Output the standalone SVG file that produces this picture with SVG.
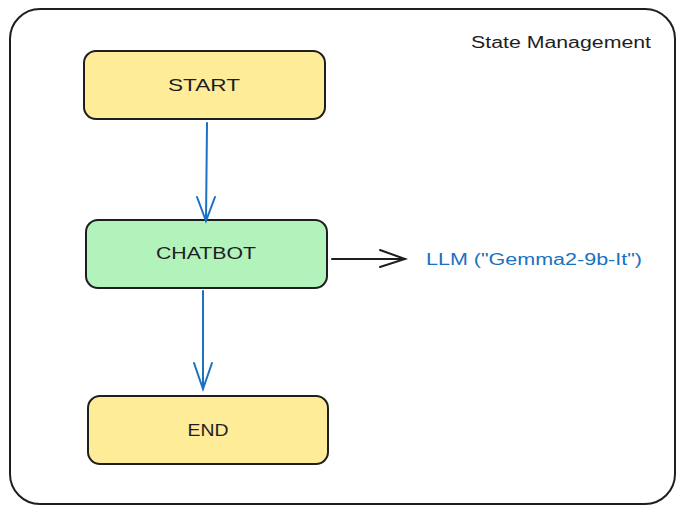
<svg xmlns="http://www.w3.org/2000/svg" width="685" height="514" viewBox="0 0 685 514">
<defs>
<style>
.frame{fill:#ffffff;stroke:#1e1e1e;stroke-width:2}
.node rect{stroke:#1e1e1e;stroke-width:2}
.yellow{fill:#ffec99}
.green{fill:#b2f2bb}
.lbl{font-family:"Liberation Sans",Arial,sans-serif;font-size:17px;fill:#1e1e1e;text-anchor:middle;dominant-baseline:central}
.blue-edge{fill:none;stroke:#1971c2;stroke-width:2;stroke-linecap:round}
.black-edge{fill:none;stroke:#1e1e1e;stroke-width:2;stroke-linecap:round}
.note{font-family:"Liberation Sans",Arial,sans-serif;font-size:16px}
</style>
</defs>
<rect width="685" height="514" fill="#ffffff"/>
<g id="frame">
<rect class="frame" x="10" y="9" width="665" height="495" rx="30"/>
<text class="note" x="471" y="48" fill="#1e1e1e" textLength="180" lengthAdjust="spacingAndGlyphs">State Management</text>
</g>
<g id="start" class="node">
<rect class="yellow" x="84" y="51" width="241" height="68" rx="12"/>
<text class="lbl" x="204" y="85" textLength="72" lengthAdjust="spacingAndGlyphs">START</text>
</g>
<g id="chatbot" class="node">
<rect class="green" x="86" y="220" width="241" height="68" rx="12"/>
<text class="lbl" x="206" y="253" textLength="100" lengthAdjust="spacingAndGlyphs">CHATBOT</text>
</g>
<g id="end" class="node">
<rect class="yellow" x="88" y="396" width="240" height="68" rx="12"/>
<text class="lbl" x="208" y="430" textLength="41" lengthAdjust="spacingAndGlyphs">END</text>
</g>
<g id="llm">
<text class="note" x="426" y="265" fill="#1971c2" textLength="216" lengthAdjust="spacingAndGlyphs">LLM ("Gemma2-9b-It")</text>
</g>
<g id="connectors">
<path class="blue-edge" d="M207 123 L206 221"/>
<path class="blue-edge" d="M197 197 L206 221 L215 197"/>
<path class="blue-edge" d="M203 291 L203 389"/>
<path class="blue-edge" d="M194 363 L203 389 L212 363"/>
<path class="black-edge" d="M332 259 L405 259"/>
<path class="black-edge" d="M380 250 L405 259 L380 267"/>
</g>
</svg>
